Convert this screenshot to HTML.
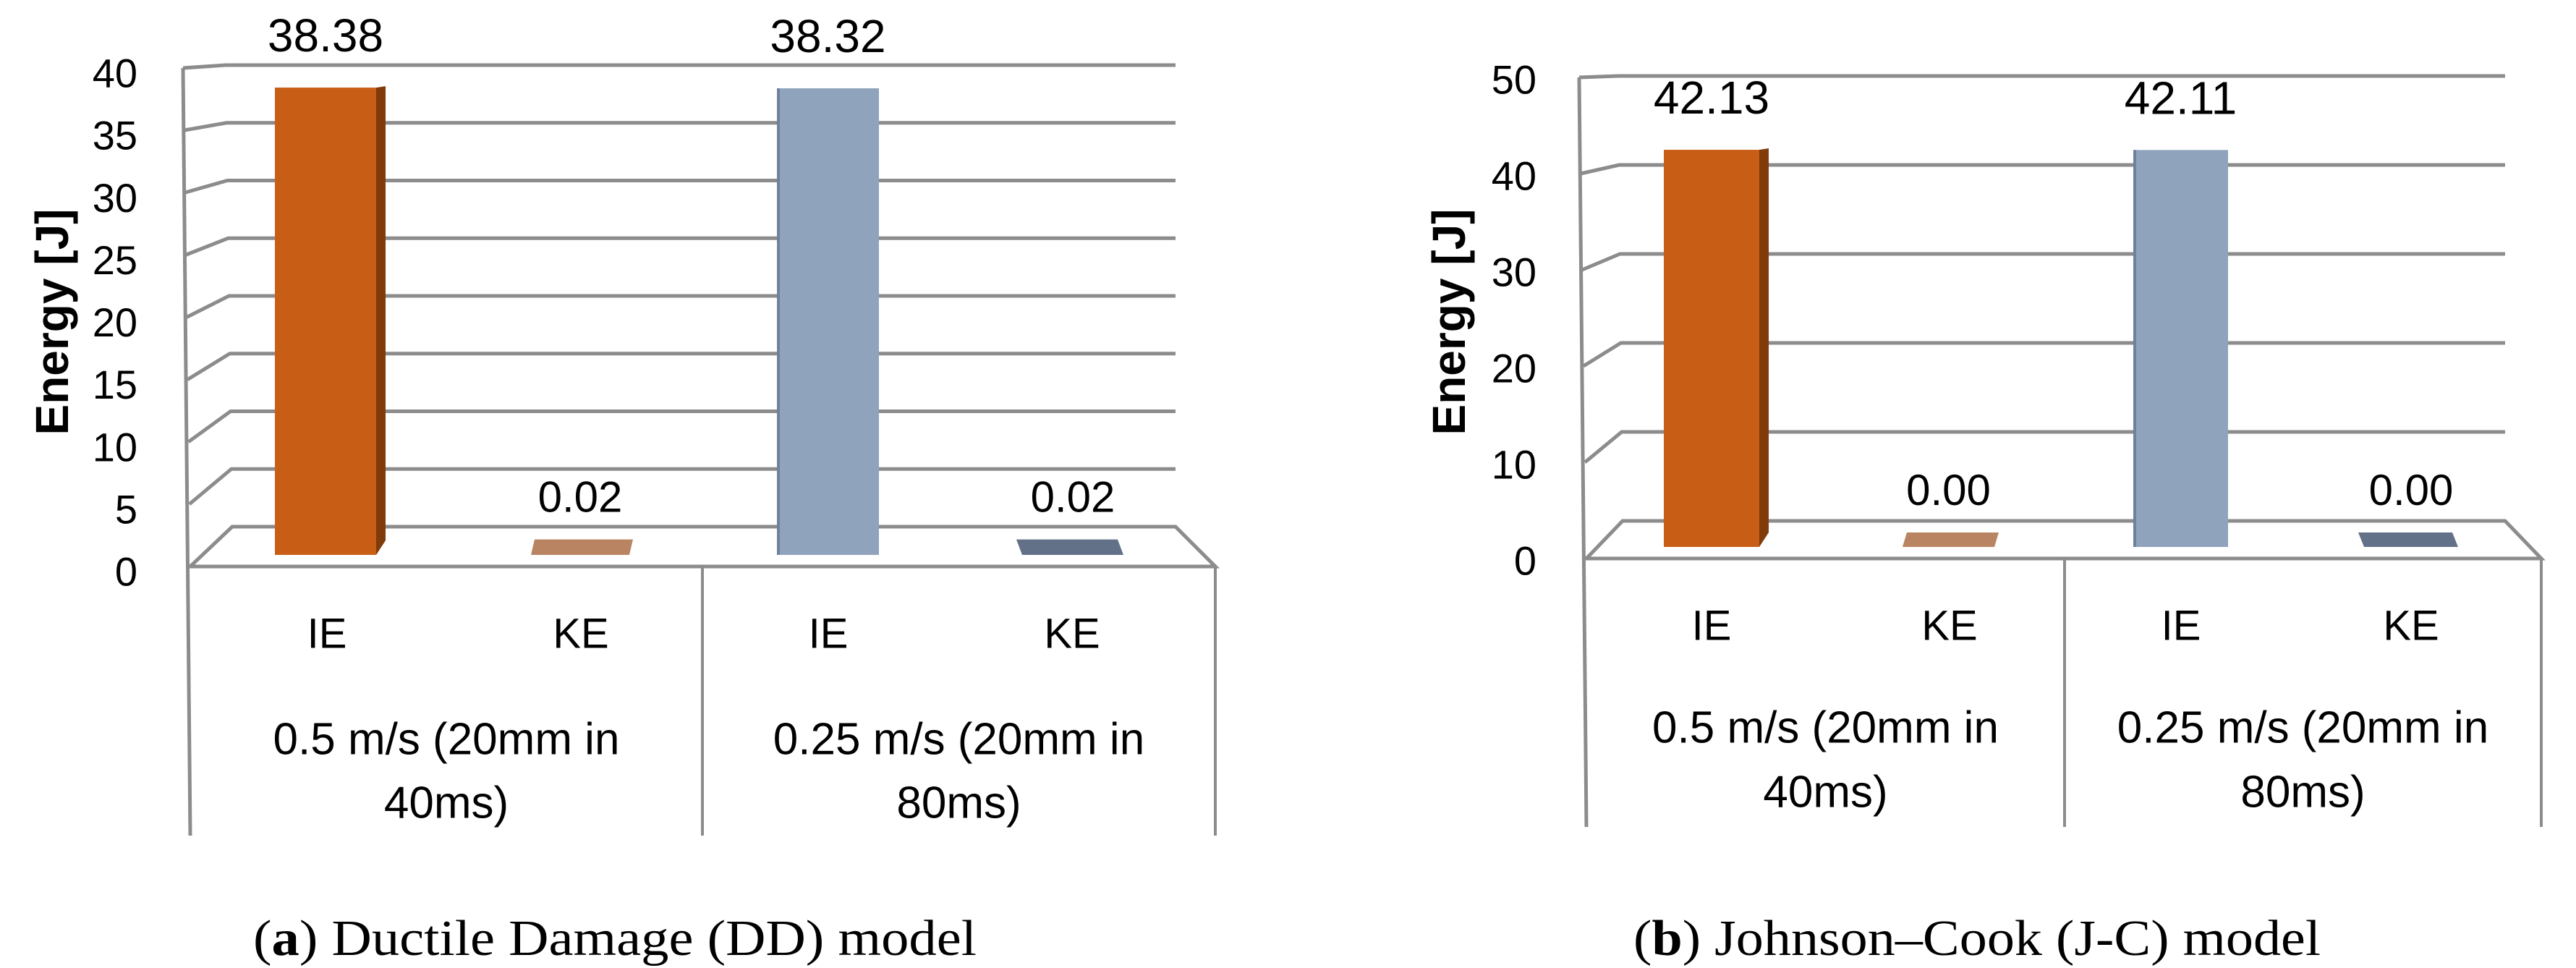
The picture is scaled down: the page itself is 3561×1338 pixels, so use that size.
<!DOCTYPE html>
<html><head><meta charset="utf-8"><style>
html,body{margin:0;padding:0;background:#fff;}
svg{display:block;}
text{font-family:"Liberation Sans",sans-serif;fill:#000;}
.cap{font-family:"Liberation Serif",serif;}
</style></head><body>
<svg id="s" width="3561" height="1338" viewBox="0 0 3561 1338" xmlns="http://www.w3.org/2000/svg"></svg>
<script>
// ---- data ----
const categories = ["IE", "KE", "IE", "KE"];
const groups = [["0.5 m/s (20mm in", "40ms)"], ["0.25 m/s (20mm in", "80ms)"]];
const ddValues = [38.38, 0.02, 38.32, 0.02];
const jcValues = [42.13, 0.00, 42.11, 0.00];
const ddTicks = [0, 5, 10, 15, 20, 25, 30, 35, 40];
const jcTicks = [0, 10, 20, 30, 40, 50];
const ddCaption = ["a", ") Ductile Damage (DD) model"];
const jcCaption = ["b", ") Johnson\u2013Cook (J-C) model"];

const NS = "http://www.w3.org/2000/svg";
const svg = document.getElementById("s");
function mk(tag, attrs, parent) {
  const e = document.createElementNS(NS, tag);
  for (const k in attrs) e.setAttribute(k, attrs[k]);
  (parent || svg).appendChild(e);
  return e;
}
const GRAY = "#8c8c8c";
const fills = [
  {front: "#c85e15", side: "#7f3b0a"},
  {front: "#b98461", side: "#b98461"},
  {front: "#8fa3bc", side: "#6f829b"},
  {front: "#627187", side: "#627187"}
];

function drawChart(cfg) {
  const g = mk("g", {});
  
  
  const max = cfg.ticks[cfg.ticks.length - 1];
  const backY = v => cfg.backBase - v * (cfg.backBase - cfg.backTop) / max;
  const frontY = v => cfg.frontBase - v * (cfg.frontBase - cfg.frontTop) / max;
  const wallX = v => cfg.wallBotX + (cfg.wallTopX - cfg.wallBotX) * v / max;
  const cornerX = v => cfg.cornerBotX + (cfg.cornerTopX - cfg.cornerBotX) * v / max;
  const barY = v => cfg.barBase - v * cfg.barK;

  const fl = mk("polygon", {points: `${cfg.wallBotX},${cfg.frontBase} ${cfg.cornerBotX},${cfg.backBase} ${cfg.backRight},${cfg.backBase} ${cfg.frontRight},${cfg.frontBase}`, fill: "#fff", stroke: GRAY, "stroke-width": 5, "stroke-linejoin": "miter"}, g);
  
  
  cfg.ticks.forEach(t => {
    if (t === 0) return;
    const gl = mk("polyline", {points: `${wallX(t)},${frontY(t)} ${cornerX(t)},${backY(t)} ${cfg.backRight},${backY(t)}`, fill: "none", stroke: GRAY, "stroke-width": 5}, g);
    
    
  });
  const wall = mk("line", {x1: cfg.wallTopX, y1: frontY(max), x2: cfg.wallBotX, y2: cfg.bottom, stroke: GRAY, "stroke-width": 5}, g);
  
  
  [cfg.midX, cfg.frontRight].forEach(x => {
    const l = mk("line", {x1: x, y1: cfg.frontBase, x2: x, y2: cfg.bottom, stroke: GRAY, "stroke-width": 4}, g);
    
    
  });
  cfg.ticks.forEach(t => {
    const tx = mk("text", {x: cfg.tickX, y: frontY(t) + cfg.tickOff, "font-size": 56, "text-anchor": "end", "dominant-baseline": "central"}, g);
    tx.textContent = t;
    
    
  });
  const yt = mk("text", {x: 0, y: 0, "font-size": 64, "font-weight": "bold", "text-anchor": "middle", "dominant-baseline": "central", transform: `translate(${cfg.titleX},445) rotate(-90)`}, g);
  yt.textContent = "Energy [J]";
  
  

  cfg.values.forEach((v, i) => {
    const x0 = cfg.barX[i], w = cfg.barW[i];
    const f = fills[i];
    let top, gap;
    if (i % 2 === 0) {
      top = barY(v);
      gap = cfg.labelGapIE;
      const r = mk("rect", {x: x0, y: top, width: w, height: cfg.barBase - top, fill: f.front}, g);
      
      
      if (i === 0) {
        const sd = mk("polygon", {points: `${x0 + w},${top} ${x0 + w + 13},${top - 2} ${x0 + w + 13},${cfg.barBase - 20} ${x0 + w},${cfg.barBase}`, fill: f.side}, g);
        
        
      } else {
        const ed = mk("rect", {x: x0, y: top, width: 4, height: cfg.barBase - top, fill: f.side}, g);
        
        
      }
    } else {
      top = barY(v) - cfg.slabDepth;
      gap = cfg.labelGapKE;
      const sk = cfg.skew[i];
      const p = mk("polygon", {points: `${x0 + sk},${top} ${x0 + sk + w},${top} ${x0 + w},${cfg.barBase} ${x0},${cfg.barBase}`, fill: f.front}, g);
      
      
    }
    const cx = x0 + w / 2;
    const lb = mk("text", {x: cx, y: top - gap, "font-size": i % 2 === 0 ? 64 : 60, "text-anchor": "middle"}, g);
    lb.textContent = v.toFixed(2);
    
    
    const cl = mk("text", {x: cfg.catX[i], y: cfg.catY, "font-size": 58, "text-anchor": "middle", "dominant-baseline": "central"}, g);
    cl.textContent = categories[i];
    
    
  });
  groups.forEach((gr, j) => {
    const cx = j === 0 ? (cfg.wallBotX + cfg.midX) / 2 : (cfg.midX + cfg.frontRight) / 2;
    gr.forEach((line, k) => {
      const t = mk("text", {x: cx, y: cfg.grpY[k], "font-size": 62, "text-anchor": "middle", "dominant-baseline": "central"}, g);
      t.textContent = line;
      
      
    });
  });
  const c = mk("text", {x: cfg.capX, y: 1320, "font-size": 70, "text-anchor": "middle", class: "cap", textLength: cfg.capW, lengthAdjust: "spacingAndGlyphs"}, g);
  mk("tspan", {}, c).textContent = "(";
  const b = mk("tspan", {"font-weight": "bold"}, c);
  b.textContent = cfg.caption[0];
  mk("tspan", {}, c).textContent = cfg.caption[1];
  
  
}

drawChart({
  name: "chart-ductile-damage", values: ddValues, ticks: ddTicks, caption: ddCaption,
  backBase: 728, backTop: 90, frontBase: 783, frontTop: 94,
  wallTopX: 253, wallBotX: 263, cornerTopX: 312, cornerBotX: 321,
  backRight: 1625, frontRight: 1680, midX: 971, bottom: 1155,
  barBase: 767, barK: 16.83, slabDepth: 21, labelGapIE: 50, labelGapKE: 38,
  barX: [380, 734, 1074, 1413], barW: [140, 136, 141, 140], skew: [0, 5, 0, -8],
  catX: [452, 803, 1145, 1482], catY: 876, grpY: [1022, 1110],
  tickX: 190, tickOff: 7, titleX: 72, capX: 850, capW: 1000
});
drawChart({
  name: "chart-johnson-cook", values: jcValues, ticks: jcTicks, caption: jcCaption,
  backBase: 720, backTop: 105, frontBase: 772, frontTop: 107,
  wallTopX: 2183, wallBotX: 2193, cornerTopX: 2237, cornerBotX: 2243,
  backRight: 3463, frontRight: 3513, midX: 2854, bottom: 1143,
  barBase: 756, barK: 13.03, slabDepth: 20, labelGapIE: 50, labelGapKE: 38,
  barX: [2300, 2630, 2949, 3268], barW: [132, 127, 131, 130], skew: [0, 6, 0, -8],
  catX: [2366, 2695, 3015, 3333], catY: 865, grpY: [1006, 1095],
  tickX: 2124, tickOff: 3, titleX: 2003, capX: 2733, capW: 950
});
</script>
</body></html>
